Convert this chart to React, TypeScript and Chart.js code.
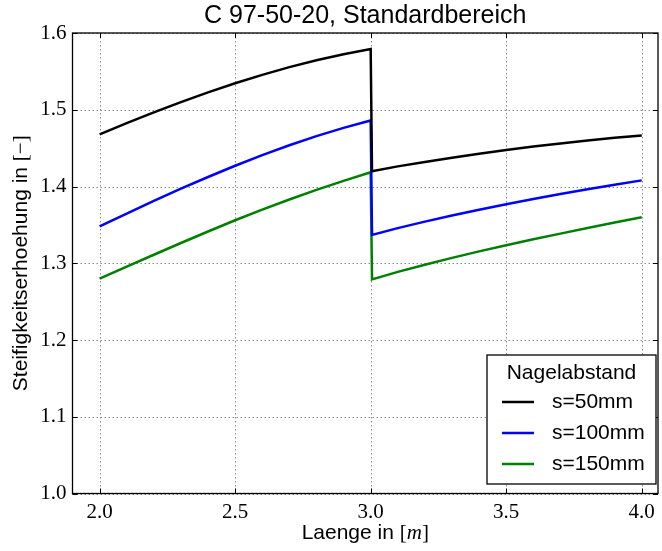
import { useEffect, useRef } from "react";
import { Chart, registerables } from "chart.js";

Chart.register(...registerables);

// ---- data ----
const lengths = [
  2.0, 2.1, 2.2, 2.3, 2.4, 2.5, 2.6, 2.7, 2.8, 2.9, 3.0,
  3.005, 3.1, 3.2, 3.3, 3.4, 3.5, 3.6, 3.7, 3.8, 3.9, 4.0,
];
const s50 = [
  1.468, 1.4825, 1.4965, 1.5099, 1.5226, 1.5345, 1.5455, 1.5555, 1.5644, 1.5722, 1.579,
  1.42, 1.4262, 1.432, 1.4375, 1.4427, 1.4476, 1.452, 1.4561, 1.4599, 1.4634, 1.4666,
];
const s100 = [
  1.348, 1.3648, 1.3812, 1.3971, 1.4124, 1.427, 1.4408, 1.4537, 1.4656, 1.4764, 1.486,
  1.337, 1.3458, 1.3542, 1.3622, 1.3698, 1.377, 1.3838, 1.3902, 1.3964, 1.4023, 1.408,
];
const s150 = [
  1.28, 1.2956, 1.3111, 1.3264, 1.3414, 1.356, 1.3699, 1.3831, 1.3956, 1.4074, 1.4185,
  1.279, 1.2888, 1.2981, 1.307, 1.3155, 1.3235, 1.3312, 1.3386, 1.3459, 1.353, 1.36,
];
const seriesLabels = ["s=50mm", "s=100mm", "s=150mm"];
const seriesColors = ["#000000", "#0000ff", "#008000"];
const xTicks = [2.0, 2.5, 3.0, 3.5, 4.0];
const yTicks = [1.0, 1.1, 1.2, 1.3, 1.4, 1.5, 1.6];
const xRange = [1.9, 4.06];
const yRange = [1.0, 1.6];
const chartTitle = "C 97-50-20, Standardbereich";
const xLabelText = "Laenge in ";
const xLabelUnit = "m";
const yLabelText = "Steifigkeitserhoehung in ";
const yLabelUnit = "\u2212";
const legendTitle = "Nagelabstand";

const SANS = '"Liberation Sans", Arial, sans-serif';
const SERIF = '"Liberation Serif", "DejaVu Serif", serif';

function drawMixed(ctx: CanvasRenderingContext2D, parts: { t: string; f: string }[], cx: number, cy: number) {
  let total = 0;
  const widths = parts.map((p) => {
    ctx.font = p.f;
    const w = ctx.measureText(p.t).width;
    total += w;
    return w;
  });
  let x = cx - total / 2;
  ctx.textAlign = "left";
  ctx.textBaseline = "middle";
  parts.forEach((p, i) => {
    ctx.font = p.f;
    ctx.fillText(p.t, x, cy);
    x += widths[i];
  });
}

const decorPlugin = {
  id: "decor",
  beforeDatasetsDraw(chart: any) {
    const ctx: CanvasRenderingContext2D = chart.ctx;
    const { left, right, top, bottom } = chart.chartArea;
    const xs = chart.scales.x;
    const ys = chart.scales.y;
    ctx.save();
    ctx.strokeStyle = "#8a8a8a";
    ctx.lineWidth = 1;
    ctx.setLineDash([1.5, 2.5]);
    xTicks.forEach((v) => {
      const px = Math.round(xs.getPixelForValue(v)) + 0.5;
      ctx.beginPath();
      ctx.moveTo(px, top);
      ctx.lineTo(px, bottom);
      ctx.stroke();
    });
    yTicks.forEach((v) => {
      const py = Math.round(ys.getPixelForValue(v)) + 0.5;
      ctx.beginPath();
      ctx.moveTo(left, py);
      ctx.lineTo(right, py);
      ctx.stroke();
    });
    ctx.restore();
  },
  afterDraw(chart: any) {
    const ctx: CanvasRenderingContext2D = chart.ctx;
    const { left, right, top, bottom } = chart.chartArea;
    const xs = chart.scales.x;
    const ys = chart.scales.y;
    ctx.save();
    // frame
    ctx.strokeStyle = "#000";
    ctx.lineWidth = 1.3;
    ctx.setLineDash([]);
    ctx.strokeRect(left, top, right - left, bottom - top);
    // inward ticks
    ctx.lineWidth = 1;
    xTicks.forEach((v) => {
      const px = Math.round(xs.getPixelForValue(v)) + 0.5;
      ctx.beginPath();
      ctx.moveTo(px, bottom);
      ctx.lineTo(px, bottom - 5);
      ctx.moveTo(px, top);
      ctx.lineTo(px, top + 5);
      ctx.stroke();
    });
    yTicks.forEach((v) => {
      const py = Math.round(ys.getPixelForValue(v)) + 0.5;
      ctx.beginPath();
      ctx.moveTo(left, py);
      ctx.lineTo(left + 5, py);
      ctx.moveTo(right, py);
      ctx.lineTo(right - 5, py);
      ctx.stroke();
    });
    ctx.fillStyle = "#000";
    // title
    ctx.font = `25px ${SANS}`;
    ctx.textAlign = "center";
    ctx.textBaseline = "middle";
    ctx.fillText(chartTitle, (left + right) / 2, 16.5);
    // x label
    drawMixed(
      ctx,
      [
        { t: xLabelText, f: `21px ${SANS}` },
        { t: "[", f: `21px ${SERIF}` },
        { t: xLabelUnit, f: `italic 21px ${SERIF}` },
        { t: "]", f: `21px ${SERIF}` },
      ],
      (left + right) / 2,
      bottom + 40
    );
    // y label
    ctx.save();
    ctx.translate(21, (top + bottom) / 2);
    ctx.rotate(-Math.PI / 2);
    drawMixed(
      ctx,
      [
        { t: yLabelText, f: `21px ${SANS}` },
        { t: "[" + yLabelUnit + "]", f: `21px ${SERIF}` },
      ],
      0,
      0
    );
    ctx.restore();
    // legend
    const bw = 169;
    const bh = 129;
    const bx = right - 2 - bw;
    const by = bottom - 9.5 - bh;
    ctx.fillStyle = "#fff";
    ctx.fillRect(bx, by, bw, bh);
    ctx.strokeStyle = "#000";
    ctx.lineWidth = 1.3;
    ctx.strokeRect(bx, by, bw, bh);
    ctx.fillStyle = "#000";
    ctx.font = `21px ${SANS}`;
    ctx.textAlign = "center";
    ctx.textBaseline = "middle";
    ctx.fillText(legendTitle, bx + bw / 2, by + 18);
    chart.data.datasets.forEach((ds: any, i: number) => {
      const ly = by + 47 + i * 31;
      ctx.strokeStyle = ds.borderColor;
      ctx.lineWidth = 2.5;
      ctx.beginPath();
      ctx.moveTo(bx + 15, ly);
      ctx.lineTo(bx + 47, ly);
      ctx.stroke();
      ctx.fillStyle = "#000";
      ctx.textAlign = "left";
      ctx.fillText(ds.label, bx + 65, ly);
    });
    ctx.restore();
  },
};

export default function App() {
  const ref = useRef<HTMLCanvasElement | null>(null);
  useEffect(() => {
    document.body.style.margin = "0";
    const all = [s50, s100, s150];
    const chart = new Chart(ref.current as HTMLCanvasElement, {
      type: "line",
      data: {
        datasets: all.map((ys, i) => ({
          label: seriesLabels[i],
          data: lengths.map((x, j) => ({ x, y: ys[j] })),
          borderColor: seriesColors[i],
          backgroundColor: seriesColors[i],
          borderWidth: 2.5,
          pointRadius: 0,
          tension: 0,
          fill: false,
        })),
      },
      options: {
        animation: false,
        responsive: false,
        devicePixelRatio: 1,
        layout: { padding: { left: 0, right: 4, top: 33, bottom: 0 } },
        plugins: {
          legend: { display: false },
          title: { display: false },
          tooltip: { enabled: false },
        },
        scales: {
          x: {
            type: "linear",
            min: xRange[0],
            max: xRange[1],
            grid: { display: false, drawTicks: false, tickLength: 0 },
            border: { display: false },
            afterBuildTicks: (s: any) => {
              s.ticks = xTicks.map((v) => ({ value: v }));
            },
            afterFit: (s: any) => {
              s.height = 57.5;
            },
            ticks: {
              color: "#000",
              padding: 6,
              maxRotation: 0,
              autoSkip: false,
              font: { family: SERIF, size: 21 },
              callback: (v: any) => Number(v).toFixed(1),
            },
          },
          y: {
            type: "linear",
            min: yRange[0],
            max: yRange[1],
            grid: { display: false, drawTicks: false, tickLength: 0 },
            border: { display: false },
            afterBuildTicks: (s: any) => {
              s.ticks = yTicks.map((v) => ({ value: v }));
            },
            afterFit: (s: any) => {
              s.width = 72.5;
            },
            ticks: {
              color: "#000",
              padding: 6,
              autoSkip: false,
              font: { family: SERIF, size: 21 },
              callback: (v: any) => Number(v).toFixed(1),
            },
          },
        },
      },
      plugins: [decorPlugin],
    });
    return () => chart.destroy();
  }, []);
  return (
    <div style={{ position: "absolute", left: 0, top: 0, width: 662, height: 551 }}>
      <canvas ref={ref} width={662} height={551} />
    </div>
  );
}
